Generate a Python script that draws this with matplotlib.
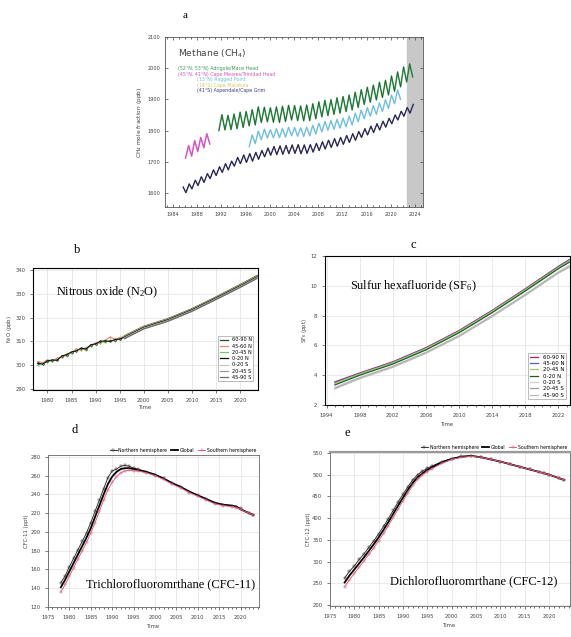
import matplotlib
matplotlib.use("Agg")
import matplotlib.pyplot as plt

plt.rcParams["mathtext.default"] = "regular"

# ---- a: methane, peak / trough of each year ----
mhd_years = list(range(1991, 2024))
mhd_peak = [1846, 1851, 1849, 1853, 1859, 1861, 1867, 1876, 1875, 1873, 1876, 1878, 1881, 1880, 1879, 1882,
            1886, 1892, 1897, 1899, 1905, 1909, 1914, 1923, 1931, 1939, 1946, 1955, 1961, 1975, 1988, 2004, 2014]
mhd_trough = [1800, 1802, 1803, 1806, 1810, 1815, 1818, 1826, 1828, 1827, 1826, 1829, 1834, 1832, 1831, 1832,
              1838, 1844, 1848, 1852, 1856, 1861, 1866, 1874, 1884, 1891, 1898, 1906, 1914, 1926, 1940, 1956, 1972]
cmo_years = list(range(1985, 1990))
cmo_peak = [1745, 1752, 1768, 1778, 1790]
cmo_trough = [1712, 1718, 1733, 1745, 1757]
rpb_years = list(range(1996, 2022))
rpb_peak = [1776, 1786, 1799, 1805, 1803, 1806, 1807, 1811, 1810, 1809, 1811, 1817, 1824, 1829, 1832, 1836,
            1840, 1846, 1856, 1866, 1874, 1880, 1889, 1899, 1914, 1930]
rpb_trough = [1748, 1758, 1771, 1776, 1777, 1777, 1779, 1783, 1782, 1781, 1783, 1789, 1796, 1801, 1804, 1808,
              1812, 1818, 1828, 1838, 1846, 1852, 1861, 1871, 1886, 1900]
cgo_years = list(range(1985, 2024))
cgo_peak = [1619, 1629, 1641, 1652, 1662, 1674, 1684, 1694, 1702, 1714, 1722, 1726, 1730, 1736, 1744, 1749,
            1751, 1752, 1754, 1755, 1754, 1755, 1759, 1764, 1769, 1774, 1778, 1784, 1790, 1797, 1806, 1814,
            1822, 1830, 1839, 1850, 1862, 1874, 1884]
cgo_trough = [1591, 1601, 1613, 1624, 1634, 1646, 1656, 1666, 1674, 1686, 1694, 1698, 1702, 1708, 1716, 1721,
              1723, 1724, 1726, 1727, 1726, 1727, 1731, 1736, 1741, 1746, 1750, 1756, 1762, 1769, 1778, 1786,
              1794, 1802, 1811, 1822, 1834, 1846, 1856]
ch4_labels = ["(52°N, 53°N) Adrigole/Mace Head", "(45°N, 41°N) Cape Meares/Trinidad Head",
              "(13°N) Ragged Point", "(14°S) Cape Matatula", "(41°S) Aspendale/Cape Grim"]

# ---- b: N2O ----
bands = ["60-90 N", "45-60 N", "20-45 N", "0-20 N", "0-20 S", "20-45 S", "45-90 S"]
n2o_early_years = list(range(1978, 1997))
n2o_early = {
    "45-60 N": [301.5, 301.0, 302.2, 301.6, 303.0, 303.4, 304.8, 305.0, 306.9, 306.2, 307.4, 308.0, 309.4,
                309.2, 310.6, 311.8, 311.0, 311.6, 312.2],
    "20-45 N": [300.0, 300.8, 301.2, 301.9, 302.4, 303.6, 304.0, 305.2, 306.3, 306.8, 306.4, 308.2, 308.9,
                309.6, 309.8, 310.4, 310.2, 311.2, 312.0],
    "0-20 N": [300.8, 300.4, 301.8, 302.2, 302.0, 303.9, 304.4, 305.6, 306.0, 307.2, 306.8, 308.6, 309.0,
               310.1, 310.2, 310.0, 310.8, 311.0, 311.8],
}
n2o_years = [1996, 2000, 2005, 2010, 2015, 2020, 2023.5]
n2o = {
    "60-90 N": [312.4, 316.4, 319.6, 323.8, 328.8, 334.0, 337.8],
    "45-60 N": [312.2, 316.3, 319.4, 323.6, 328.6, 333.8, 337.6],
    "20-45 N": [312.0, 316.1, 319.3, 323.5, 328.5, 333.6, 337.5],
    "0-20 N": [311.8, 315.9, 319.1, 323.3, 328.3, 333.4, 337.2],
    "0-20 S": [311.5, 315.6, 318.8, 323.0, 328.0, 333.1, 336.9],
    "20-45 S": [311.3, 315.4, 318.6, 322.8, 327.8, 332.9, 336.7],
    "45-90 S": [311.2, 315.3, 318.5, 322.7, 327.7, 332.8, 336.6],
}

# ---- c: SF6 ----
sf6_years = [1995, 1998, 2002, 2006, 2010, 2014, 2018, 2022, 2023.3]
sf6 = {
    "60-90 N": [3.55, 4.15, 4.90, 5.85, 7.00, 8.35, 9.80, 11.30, 11.75],
    "45-60 N": [3.50, 4.12, 4.87, 5.82, 6.97, 8.32, 9.77, 11.27, 11.72],
    "20-45 N": [3.45, 4.08, 4.83, 5.78, 6.93, 8.28, 9.73, 11.22, 11.66],
    "0-20 N": [3.35, 4.00, 4.75, 5.70, 6.85, 8.20, 9.65, 11.15, 11.58],
    "0-20 S": [3.20, 3.86, 4.62, 5.56, 6.68, 8.02, 9.45, 10.95, 11.36],
    "20-45 S": [3.12, 3.80, 4.56, 5.50, 6.62, 7.96, 9.38, 10.88, 11.28],
    "45-90 S": [3.08, 3.77, 4.53, 5.47, 6.59, 7.93, 9.35, 10.85, 11.24],
}

# ---- d, e: CFCs ----
cfc_years = list(range(1978, 1997)) + list(range(1998, 2019, 2)) + [2019, 2020, 2022, 2023]
cfc11_nh = [146, 153, 163, 172, 181, 190, 199, 210, 222, 234, 246, 258, 265, 267, 270, 271, 270, 268, 267,
            264, 261, 257, 252, 248, 243, 239, 235, 231, 229, 228, 227, 225, 220, 218]
cfc11_gl = [141, 149, 158, 167, 176, 185, 194, 204, 216, 228, 240, 251, 259, 264, 267, 268, 268, 267, 266,
            264, 261, 257, 252, 248, 243, 239, 235, 231, 229, 228, 227, 224, 220, 218]
cfc11_sh = [136, 144, 153, 162, 171, 180, 189, 199, 210, 222, 234, 245, 253, 259, 263, 265, 266, 265, 265,
            263, 260, 256, 251, 247, 242, 238, 234, 230, 228, 227, 226, 224, 220, 218]
cfc12_nh = [262, 278, 290, 305, 318, 333, 348, 364, 381, 399, 418, 437, 455, 472, 488, 500, 508, 515, 520,
            530, 537, 542, 543, 540, 535, 530, 524, 518, 512, 506, 503, 500, 492, 488]
cfc12_gl = [252, 268, 282, 296, 310, 325, 340, 356, 373, 391, 410, 429, 447, 465, 481, 494, 503, 511, 517,
            528, 536, 541, 543, 540, 535, 530, 524, 518, 512, 506, 503, 500, 492, 488]
cfc12_sh = [242, 258, 273, 288, 302, 317, 332, 348, 365, 383, 402, 421, 440, 458, 475, 489, 499, 507, 514,
            526, 535, 540, 542, 540, 535, 530, 524, 518, 512, 506, 503, 500, 492, 488]


def zigzag(years, first, second, off1, off2):
    # interleave the two values of each year into one line
    xs, ys = [], []
    for y, a, b in zip(years, first, second):
        xs += [y + off1, y + off2]
        ys += [a, b]
    return xs, ys


serif = ["Liberation Serif", "DejaVu Serif"]
fig = plt.figure(figsize=(5.71, 6.37), dpi=100)
W, H = 571, 637


def place(x0, y0, x1, y1):
    return fig.add_axes([x0 / W, 1 - y1 / H, (x1 - x0) / W, (y1 - y0) / H])


# ================= a =================
ax = place(165, 37, 423, 207)
green, magenta, blue, yellow, navy = "#3a9e55", "#d455c4", "#6fbfe0", "#d9c85a", "#3b3b85"
x, y = zigzag(cmo_years, cmo_peak, cmo_trough, 0.6, 1.1)
ax.plot(x[1:], y[1:], color=magenta, lw=1.1)
x, y = zigzag(mhd_years, mhd_peak, mhd_trough, 0.1, 0.6)
ax.plot(x[1:], y[1:], color=green, lw=1.1)
ax.plot(x[1:], y[1:], color="#1f4d2c", lw=0.35)
x, y = zigzag(rpb_years, rpb_peak, rpb_trough, 0.1, 0.6)
ax.plot(x[1:], y[1:], color=blue, lw=1.0)
x, y = zigzag(cgo_years, cgo_trough, cgo_peak, 0.15, 0.7)
ax.plot(x[1:], y[1:], color=navy, lw=1.0)
ax.plot(x[1:], y[1:], color="#222222", lw=0.4)
ax.axvspan(2022.7, 2026, color="#c8c8c8", zorder=0)
ax.set_xlim(1982.7, 2025.3)
ax.set_ylim(1555, 2100)
ax.set_xticks(range(1984, 2025, 4))
ax.set_xticks(range(1983, 2026), minor=True)
ax.set_yticks(range(1600, 2101, 100))
ax.tick_params(direction="in", top=True, right=True, labelsize=3.6, length=2.5, width=0.5, colors="#444444")
ax.tick_params(which="minor", direction="in", top=True, right=True, length=1.5, width=0.4)
ax.set_ylabel("CH$_4$ mole fraction (ppb)", fontsize=4.2, color="#444444", labelpad=2)
for s in ax.spines.values():
    s.set_linewidth(0.6)
    s.set_color("#555555")
ax.text(0.05, 0.9, "Methane (CH$_4$)", transform=ax.transAxes, fontsize=6.6, color="#444444", va="center")
for i, (lab, col) in enumerate(zip(ch4_labels, [green, magenta, blue, yellow, navy])):
    ax.text(0.05 if i < 2 else 0.125, 0.815 - i * 0.033, lab, transform=ax.transAxes, fontsize=3.4,
            color=col, va="center")
fig.text(185 / W, 1 - 15 / H, "a", fontsize=8, family=serif, ha="center", va="center")

# ================= b =================
ax = place(33, 268, 258, 390)
b_cols = {"60-90 N": "#3d3d3d", "45-60 N": "#e58a6c", "20-45 N": "#7dc46b", "0-20 N": "#111111",
          "0-20 S": "#c4c4c4", "20-45 S": "#9a9a9a", "45-90 S": "#6e6e6e"}
for band in ["45-60 N", "20-45 N", "0-20 N"]:
    ax.plot(n2o_early_years, n2o_early[band], color=b_cols[band], lw=0.8, marker="o", ms=1.2, mfc="none",
            mew=0.4)
for band in bands:
    ax.plot(n2o_years, n2o[band], color=b_cols[band], lw=0.9, label=band)
ax.set_xlim(1977, 2023.7)
ax.set_ylim(289.5, 341)
ax.set_xticks(range(1980, 2021, 5))
ax.set_yticks(range(290, 341, 10))
ax.grid(color="#e2e2e2", lw=0.5)
ax.tick_params(labelsize=3.8, length=2, width=0.5, colors="#444444")
ax.set_xlabel("Time", fontsize=3.8, labelpad=1.5, color="#444444")
ax.set_ylabel("N$_2$O (ppb)", fontsize=3.8, labelpad=1, color="#444444")
leg = ax.legend(loc="lower right", fontsize=3.6, handlelength=1.6, labelspacing=0.25, borderpad=0.3,
                fancybox=False, edgecolor="#888888", framealpha=1, bbox_to_anchor=(0.99, 0.05))
leg.get_frame().set_linewidth(0.4)
ax.text(0.1, 0.8, "Nitrous oxide (N$_2$O)", transform=ax.transAxes, fontsize=8.8, family=serif, va="center")
fig.text(77 / W, 1 - 250 / H, "b", fontsize=9, family=serif, ha="center", va="center")

# ================= c =================
ax = place(325, 256, 570, 405)
c_cols = {"60-90 N": "#c2185b", "45-60 N": "#5a5fbf", "20-45 N": "#9ccc65", "0-20 N": "#1b5e20",
          "0-20 S": "#d0d0d0", "20-45 S": "#9e9e9e", "45-90 S": "#bdbdbd"}
for band in bands:
    ax.plot(sf6_years, sf6[band], color=c_cols[band], lw=0.9, label=band)
ax.set_xlim(1993.8, 2023.4)
ax.set_ylim(2, 12)
ax.set_xticks(range(1994, 2023, 4))
ax.set_xticks(range(1994, 2024), minor=True)
ax.set_yticks(range(2, 13, 2))
ax.grid(color="#e2e2e2", lw=0.5)
ax.tick_params(labelsize=3.8, length=2, width=0.5, colors="#444444")
ax.tick_params(which="minor", length=1.2, width=0.4)
ax.set_xlabel("Time", fontsize=3.8, labelpad=3, color="#444444")
ax.set_ylabel("SF$_6$ (ppt)", fontsize=3.8, labelpad=1, color="#444444")
leg = ax.legend(loc="lower right", fontsize=3.9, handlelength=1.6, labelspacing=0.25, borderpad=0.3,
                fancybox=False, edgecolor="#888888", framealpha=1, bbox_to_anchor=(0.995, 0.02))
leg.get_frame().set_linewidth(0.4)
ax.text(0.1, 0.8, "Sulfur hexafluoride (SF$_6$)", transform=ax.transAxes, fontsize=8.8, family=serif,
        va="center")
fig.text(413 / W, 1 - 245 / H, "c", fontsize=9, family=serif, ha="center", va="center")


# ================= d, e =================
def cfc_panel(ax, nh, gl, sh, ylim, yticks, label, lx, ly, ylab):
    ax.plot(cfc_years, nh, color="#333333", lw=0.7, marker="s", ms=1.6, mfc="none", mew=0.35,
            label="Northern hemisphere")
    ax.plot(cfc_years, gl, color="#000000", lw=1.3, label="Global")
    ax.plot(cfc_years, sh, color="#e0607e", lw=0.7, marker="s", ms=1.6, mfc="none", mew=0.35,
            label="Southern hemisphere")
    ax.set_xlim(1975, 2024.3)
    ax.set_ylim(*ylim)
    ax.set_xticks(range(1975, 2021, 5))
    ax.set_xticks(range(1975, 2025), minor=True)
    ax.set_yticks(yticks)
    ax.grid(color="#e2e2e2", lw=0.5)
    ax.tick_params(labelsize=3.8, length=2, width=0.5, colors="#444444")
    ax.tick_params(which="minor", length=1.2, width=0.4)
    ax.set_xlabel("Time", fontsize=3.8, labelpad=3, color="#444444")
    ax.set_ylabel(ylab, fontsize=3.8, labelpad=1, color="#444444")
    for s in ax.spines.values():
        s.set_linewidth(0.6)
        s.set_color("#666666")
    ax.legend(loc="lower right", bbox_to_anchor=(1.0, 0.995), ncol=3, fontsize=3.3, frameon=False,
              handlelength=1.5, columnspacing=0.8, borderpad=0.1, handletextpad=0.4)
    ax.text(lx, ly, label, transform=ax.transAxes, fontsize=9, family=serif, va="center")


ax = place(48, 455, 259, 607)
cfc_panel(ax, cfc11_nh, cfc11_gl, cfc11_sh, (120, 282), range(120, 281, 20),
          "Trichlorofluoromrthane (CFC-11)", 0.18, 0.15, "CFC-11 (ppt)")
fig.text(75 / W, 1 - 430 / H, "d", fontsize=9, family=serif, ha="center", va="center")

ax = place(330, 452, 570, 606)
cfc_panel(ax, cfc12_nh, cfc12_gl, cfc12_sh, (198, 552), range(200, 551, 50),
          "Dichlorofluoromrthane (CFC-12)", 0.25, 0.16, "CFC-12 (ppt)")
ax.spines["top"].set_linewidth(1.6)
ax.spines["top"].set_color("#9a9a9a")
fig.text(347 / W, 1 - 433 / H, "e", fontsize=9, family=serif, ha="center", va="center")

fig.savefig("out.png", dpi=100)
